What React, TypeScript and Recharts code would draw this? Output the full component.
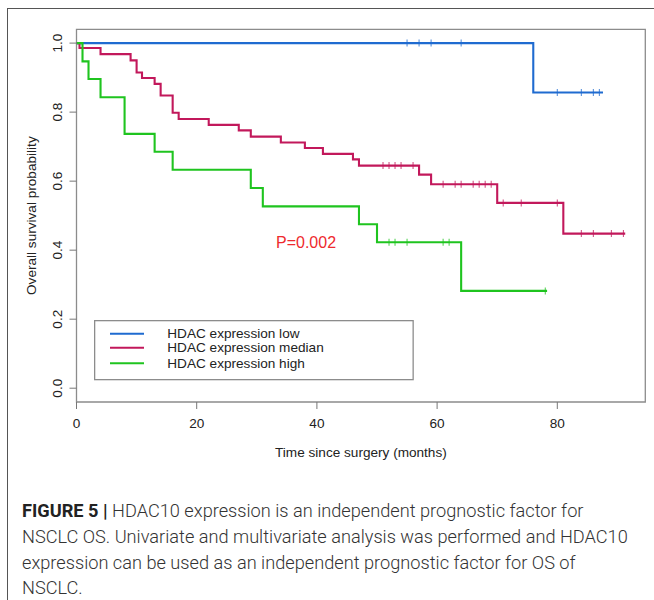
import React from 'react';
import { ComposedChart, Line, XAxis, YAxis, ReferenceArea } from 'recharts';

// Kaplan-Meier curves (time in months, survival probability)
const lowTimes = [0, 76, 87.6];
const lowSurv = [1, 0.857, 0.857];
const lowCensor = [55, 57, 59, 64, 80, 84, 86, 87];

const medianTimes = [0, 0.5, 4, 9, 10, 10.9, 13, 14, 16, 17, 22, 27, 29, 34, 38, 41, 46, 47, 57, 59, 70, 81, 91.3];
const medianSurv = [1, 0.986, 0.968, 0.95, 0.915, 0.899, 0.882, 0.848, 0.798, 0.78, 0.763, 0.747, 0.729, 0.712, 0.696, 0.679, 0.663, 0.645, 0.619, 0.591, 0.537, 0.448, 0.448];
const medianCensor = [51, 52, 53, 54, 56, 61, 63, 64, 66, 67, 68, 69, 71, 74, 80, 84, 86, 89, 91];

const highTimes = [0, 1, 2, 4, 8, 13, 16, 29, 31, 47, 50, 64, 78.3];
const highSurv = [1, 0.947, 0.896, 0.843, 0.737, 0.685, 0.633, 0.58, 0.527, 0.475, 0.423, 0.282, 0.282];
const highCensor = [52, 53, 55, 61, 62, 78];

const xTicks = [0, 20, 40, 60, 80];
const yTicks = [0, 0.2, 0.4, 0.6, 0.8, 1.0];

const seriesNames = ['HDAC expression low', 'HDAC expression median', 'HDAC expression high'];
const seriesColors = ['#1f6bd0', '#c2185b', '#1fc41f'];

const toSteps = (times: number[], surv: number[]) => times.map((t, i) => ({ t, s: surv[i] }));

// survival value at time t
const survAt = (times: number[], surv: number[], t: number) => {
  let s = surv[0];
  times.forEach((tt, i) => {
    if (tt <= t) s = surv[i];
  });
  return s;
};

const toCensor = (times: number[], surv: number[], cens: number[]) =>
  cens.map((t) => ({ t, s: survAt(times, surv, t) }));

const curves = [
  { steps: toSteps(lowTimes, lowSurv), marks: toCensor(lowTimes, lowSurv, lowCensor) },
  { steps: toSteps(medianTimes, medianSurv), marks: toCensor(medianTimes, medianSurv, medianCensor) },
  { steps: toSteps(highTimes, highSurv), marks: toCensor(highTimes, highSurv, highCensor) },
];

const FONT = '"Liberation Sans", Arial, sans-serif';
const FS = 13.6;

const censorDot = (color: string) => (props: any) => {
  const { cx, cy, index } = props;
  return (
    <line key={`c-${index}`} x1={cx} x2={cx} y1={cy - 3.5} y2={cy + 3.5} stroke={color} strokeWidth={1.1} strokeOpacity={0.75} />
  );
};

const YTick = (props: any) => {
  const { x, y, payload } = props;
  const cx = x - 10;
  return (
    <text x={cx} y={y} transform={`rotate(-90, ${cx}, ${y})`} textAnchor="middle" dominantBaseline="central" fontSize={FS} fill="#222" fontFamily={FONT}>
      {payload.value.toFixed(1)}
    </text>
  );
};

const App = () => {
  return (
    <div style={{ position: 'absolute', left: 0, top: 0, width: 654, height: 600, overflow: 'hidden', background: '#fff' }}>
      {/* outer figure frame */}
      <div style={{ position: 'absolute', left: 7, top: 8, width: 720, height: 700, borderLeft: '1.3px solid #555', borderTop: '1.3px solid #555' }} />

      <div style={{ position: 'absolute', left: 0, top: 0 }}>
        <ComposedChart width={654} height={460} margin={{ top: 29.3, right: 8.7, left: 0, bottom: 0 }}>
          <XAxis
            type="number"
            dataKey="t"
            domain={[0, 94.64]}
            ticks={xTicks}
            allowDataOverflow
            axisLine={false}
            tickSize={7}
            tickLine={{ stroke: '#777' }}
            tick={{ fill: '#222', fontSize: FS, fontFamily: FONT, dy: 7 }}
            height={58}
            label={{ value: 'Time since surgery (months)', position: 'center', dy: 21, fill: '#222', fontSize: FS, fontFamily: FONT }}
          />
          <YAxis
            type="number"
            dataKey="s"
            domain={[-0.04, 1.04]}
            ticks={yTicks}
            allowDataOverflow
            axisLine={false}
            tickSize={7}
            tickLine={{ stroke: '#777' }}
            tick={<YTick />}
            width={76.5}
            label={{ value: 'Overall survival probability', angle: -90, position: 'center', dx: -7, fill: '#222', fontSize: FS, fontFamily: FONT }}
          />
          <ReferenceArea x1={0} x2={94.64} y1={-0.04} y2={1.04} fill="none" stroke="#8c8c8c" strokeWidth={1.3} />
          {curves.map((c, i) => (
            <Line
              key={`curve-${i}`}
              data={c.steps}
              dataKey="s"
              type="stepAfter"
              stroke={seriesColors[i]}
              strokeWidth={2.1}
              dot={false}
              isAnimationActive={false}
            />
          ))}
          {curves.map((c, i) => (
            <Line
              key={`cens-${i}`}
              data={c.marks}
              dataKey="s"
              stroke="none"
              dot={censorDot(seriesColors[i])}
              activeDot={false}
              isAnimationActive={false}
            />
          ))}
        </ComposedChart>
      </div>

      {/* p-value */}
      <div style={{ position: 'absolute', left: 276, top: 233, fontFamily: FONT, fontSize: 16, color: '#ee2a2e', lineHeight: '19px' }}>
        P=0.002
      </div>

      {/* legend */}
      <svg style={{ position: 'absolute', left: 94, top: 319.5 }} width={320} height={61}>
        <rect x={0.65} y={0.65} width={318.5} height={59} fill="#fff" stroke="#8c8c8c" strokeWidth={1.3} />
        {seriesNames.map((n, i) => {
          const y = [13.8, 27.8, 43.3][i];
          return (
            <g key={n}>
              <line x1={16} x2={50} y1={y} y2={y} stroke={seriesColors[i]} strokeWidth={2} />
              <text x={73.3} y={y} dominantBaseline="central" fontSize={FS} fontFamily={FONT} fill="#222">
                {n}
              </text>
            </g>
          );
        })}
      </svg>

      {/* caption */}
      <div style={{ position: 'absolute', left: 22, top: 498, fontFamily: 'Roboto, "Liberation Sans", sans-serif', fontWeight: 300, fontSize: 18.2, lineHeight: '25.8px', color: '#333', whiteSpace: 'nowrap' }}>
        <div>
          <span style={{ fontWeight: 700, color: '#222' }}>FIGURE 5 |</span> HDAC10 expression is an independent prognostic factor for
        </div>
        <div>NSCLC OS. Univariate and multivariate analysis was performed and HDAC10</div>
        <div>expression can be used as an independent prognostic factor for OS of</div>
        <div>NSCLC.</div>
      </div>
    </div>
  );
};

export default App;
